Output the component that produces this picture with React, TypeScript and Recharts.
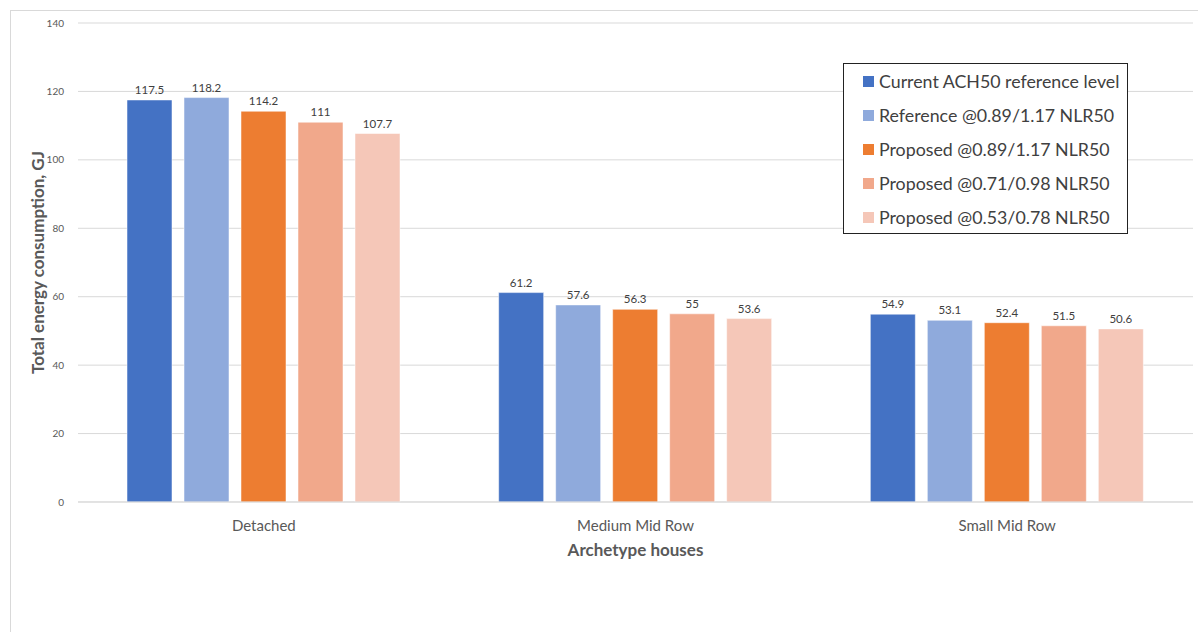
import React from 'react';
import { BarChart, Bar, XAxis, YAxis, CartesianGrid, LabelList, Label } from 'recharts';

const categories = ['Detached', 'Medium Mid Row', 'Small Mid Row'];
const currentAch50 = [117.5, 61.2, 54.9];
const reference089 = [118.2, 57.6, 53.1];
const proposed089 = [114.2, 56.3, 52.4];
const proposed071 = [111, 55, 51.5];
const proposed053 = [107.7, 53.6, 50.6];
const yTicks = [0, 20, 40, 60, 80, 100, 120, 140];

const SERIES = [
  { key: 'current', name: 'Current ACH50 reference level', color: '#4472C4', values: currentAch50 },
  { key: 'ref089', name: 'Reference @0.89/1.17 NLR50', color: '#8FAADC', values: reference089 },
  { key: 'prop089', name: 'Proposed @0.89/1.17 NLR50', color: '#ED7D31', values: proposed089 },
  { key: 'prop071', name: 'Proposed @0.71/0.98 NLR50', color: '#F1A88B', values: proposed071 },
  { key: 'prop053', name: 'Proposed @0.53/0.78 NLR50', color: '#F5C7B8', values: proposed053 },
];

const data = categories.map((c, i) => {
  const row: Record<string, string | number> = { name: c };
  SERIES.forEach(s => { row[s.key] = s.values[i]!; });
  return row;
});

const FONT = 'Lato, "Open Sans", sans-serif';

// legend is an overlay so it doesn't eat into the plot area
function LegendBox() {
  return (
    <div style={{ position: 'absolute', left: 843, top: 63, width: 285, height: 171, border: '1px solid #222', background: '#fff', padding: '0 0 0 19px', boxSizing: 'border-box', fontFamily: FONT }}>
      {SERIES.map(s => (
        <div key={s.key} style={{ display: 'flex', alignItems: 'center', height: 34, fontSize: 17.8, color: '#404040' }}>
          <span style={{ width: 11, height: 11, background: s.color, marginRight: 5, display: 'inline-block' }} />
          {s.name}
        </div>
      ))}
    </div>
  );
}

export default function App() {
  return (
    <div style={{ position: 'absolute', left: 0, top: 0, width: 1198, height: 632, overflow: 'hidden', background: '#fff', fontFamily: FONT }}>
      <div style={{ position: 'absolute', left: 10, top: 10, width: 1300, height: 800, border: '1px solid #d9d9d9' }} />
      <div style={{ position: 'absolute', left: 0, top: 0 }}>
        <BarChart width={1198} height={632} data={data} margin={{ top: 23, right: 5, left: 0, bottom: 0 }} barSize={45} barGap={12}>
          <CartesianGrid vertical={false} stroke="#d9d9d9" />
          <XAxis dataKey="name" axisLine={{ stroke: '#d9d9d9' }} tickLine={false} height={130}
            tick={{ fontSize: 15, fill: '#595959', fontFamily: FONT }} tickMargin={12}>
            <Label content={({ viewBox }: any) => (
              <text x={viewBox.x + viewBox.width / 2} y={viewBox.y + 54} textAnchor="middle"
                fontSize={17} fontWeight={700} fill="#595959" fontFamily={FONT}>Archetype houses</text>
            )} />
          </XAxis>
          <YAxis width={78} domain={[0, 140]} ticks={yTicks} axisLine={false} tickLine={false}
            tick={{ fontSize: 10, fill: '#595959', fontFamily: FONT }} tickMargin={8}>
            <Label value="Total energy consumption, GJ" angle={-90} position="center" dx={-1}
              style={{ fontSize: 17, fontWeight: 700, fill: '#595959', fontFamily: FONT }} />
          </YAxis>
          {SERIES.map(s => (
            <Bar key={s.key} dataKey={s.key} name={s.name} fill={s.color} stroke="#ffffff" strokeOpacity={0.5} isAnimationActive={false}>
              <LabelList dataKey={s.key} position="top" offset={6} style={{ fontSize: 11.5, fill: '#404040', fontFamily: FONT }} />
            </Bar>
          ))}
        </BarChart>
      </div>
      <LegendBox />
    </div>
  );
}
